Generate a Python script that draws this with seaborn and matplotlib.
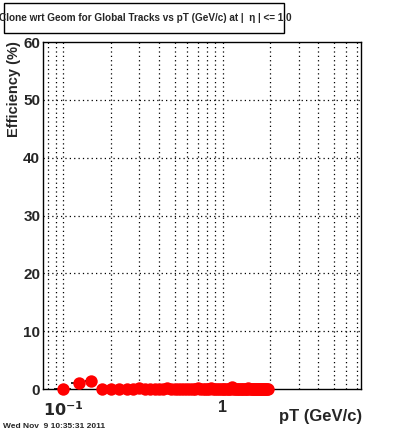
import matplotlib
matplotlib.use("Agg")
import matplotlib.pyplot as plt
import seaborn as sns
import pandas as pd
import numpy as np
from matplotlib.ticker import FixedLocator, NullFormatter, FixedFormatter
from matplotlib.patches import Rectangle

sns.set_style("white")
plt.rcParams['font.family'] = ['Liberation Sans', 'DejaVu Sans']

pt = [0.100, 0.125, 0.150, 0.175, 0.200, 0.225, 0.250, 0.275, 0.300, 0.325,
      0.350, 0.375, 0.400, 0.425, 0.450, 0.475, 0.500, 0.525, 0.550, 0.575,
      0.600, 0.625, 0.650, 0.675, 0.700, 0.725, 0.750, 0.775, 0.800, 0.825,
      0.850, 0.875, 0.900, 0.925, 0.950, 0.975, 1.000, 1.025, 1.050, 1.075,
      1.100, 1.125, 1.150, 1.175, 1.200, 1.225, 1.250, 1.275, 1.300, 1.325,
      1.350, 1.375, 1.400, 1.425, 1.450, 1.475, 1.500, 1.525, 1.550, 1.575,
      1.600, 1.625, 1.650, 1.675, 1.700, 1.725, 1.750, 1.775, 1.800, 1.825,
      1.850, 1.875, 1.900, 1.925]
eff = [0.0, 1.0, 1.4, 0.0, 0.0, 0.0, 0.0, 0.0, 0.1, 0.0,
       0.0, 0.0, 0.0, 0.0, 0.2, 0.0, 0.0, 0.0, 0.0, 0.0,
       0.0, 0.0, 0.0, 0.0, 0.15, 0.0, 0.0, 0.0, 0.0, 0.0,
       0.2, 0.0, 0.0, 0.0, 0.0, 0.0, 0.0, 0.0, 0.0, 0.0,
       0.0, 0.0, 0.3, 0.0, 0.0, 0.0, 0.0, 0.0, 0.0, 0.0,
       0.0, 0.0, 0.0, 0.0, 0.15, 0.0, 0.0, 0.0, 0.0, 0.0,
       0.0, 0.0, 0.0, 0.0, 0.0, 0.0, 0.0, 0.0, 0.0, 0.0,
       0.0, 0.0, 0.0, 0.0]
eff_err = [0.0, 0.7, 0.8, 0.0, 0.0, 0.0, 0.0, 0.0, 0.1, 0.0,
           0.0, 0.0, 0.0, 0.0, 0.2, 0.0, 0.0, 0.0, 0.0, 0.0,
           0.0, 0.0, 0.0, 0.0, 0.15, 0.0, 0.0, 0.0, 0.0, 0.0,
           0.2, 0.0, 0.0, 0.0, 0.0, 0.0, 0.0, 0.0, 0.0, 0.0,
           0.0, 0.0, 0.3, 0.0, 0.0, 0.0, 0.0, 0.0, 0.0, 0.0,
           0.0, 0.0, 0.0, 0.0, 0.15, 0.0, 0.0, 0.0, 0.0, 0.0,
           0.0, 0.0, 0.0, 0.0, 0.0, 0.0, 0.0, 0.0, 0.0, 0.0,
           0.0, 0.0, 0.0, 0.0]
bin_half = 0.0125

title = "Clone wrt Geom for Global Tracks vs pT (GeV/c) at |  η | <= 1.0"
xlabel = "pT (GeV/c)"
ylabel = "Efficiency (%)"
datestamp = "Wed Nov  9 10:35:31 2011"
y_ticks = [0, 10, 20, 30, 40, 50, 60]

df = pd.DataFrame({"pt": pt, "eff": eff, "err": eff_err})

fig = plt.figure(figsize=(4.0, 4.33), dpi=100)
ax = fig.add_axes([0.1075, 0.1016, 0.795, 0.8014])

ax.set_xscale("log")
ax.set_xlim(0.0746, 7.4)
ax.set_ylim(0, 60)

# grid
major_x = [0.1, 1.0]
minor_x = [0.08, 0.09, 0.2, 0.3, 0.4, 0.5, 0.6, 0.7, 0.8, 0.9,
           2, 3, 4, 5, 6, 7]
for xv in major_x + minor_x:
    ax.axvline(xv, color="black", lw=0.9, ls=(0, (1, 2.5)), zorder=0)
for yv in y_ticks[1:-1]:
    ax.axhline(yv, color="black", lw=0.9, ls=(0, (1, 2.5)), zorder=0)

ax.errorbar(df["pt"], df["eff"], xerr=bin_half, yerr=df["err"], fmt="none",
            ecolor="black", elinewidth=1.2, capsize=0, zorder=2, clip_on=False)
sns.scatterplot(data=df, x="pt", y="eff", ax=ax, color="red", s=80,
                edgecolor="red", linewidth=0, zorder=3, clip_on=False, legend=False)

ax.xaxis.set_major_locator(FixedLocator(major_x))
ax.xaxis.set_major_formatter(FixedFormatter([r"$\mathbf{10^{-1}}$", "1"]))
ax.xaxis.set_minor_locator(FixedLocator(minor_x))
ax.xaxis.set_minor_formatter(NullFormatter())
ax.yaxis.set_major_locator(FixedLocator(y_ticks))
ax.yaxis.set_minor_locator(FixedLocator([v for v in range(0, 61, 2) if v % 10]))

ax.tick_params(axis="both", which="both", direction="in", color="black",
               labelsize=11, width=1)
ax.tick_params(axis="x", which="major", length=10, pad=8, labelsize=11.5)
ax.tick_params(axis="x", which="minor", length=5)
ax.tick_params(axis="y", which="major", length=9, pad=2)
ax.tick_params(axis="y", which="minor", length=5)
for lab in ax.get_xticklabels() + ax.get_yticklabels():
    lab.set_fontweight("bold")

for s in ax.spines.values():
    s.set_color("black")
    s.set_linewidth(1)

ax.set_xlabel("")
ax.set_ylabel("")
fig.text(0.905, 0.028, xlabel, ha="right", va="baseline", fontsize=12,
         fontweight="bold")
fig.text(0.035, 0.905, ylabel, ha="center", va="top", rotation=90,
         fontsize=10.5, fontweight="bold")

# title box
fig.patches.append(Rectangle((4 / 400, 1 - 33 / 433), 280 / 400, 30 / 433,
                             transform=fig.transFigure, facecolor="white",
                             edgecolor="black", lw=1))
fig.text(145 / 400, 1 - 18 / 433, title, ha="center", va="center", fontsize=7.2,
         fontweight="bold")
fig.text(0.008, 0.012, datestamp, ha="left", va="baseline", fontsize=6,
         fontweight="bold")

fig.savefig("out.png", dpi=100, facecolor="white")
